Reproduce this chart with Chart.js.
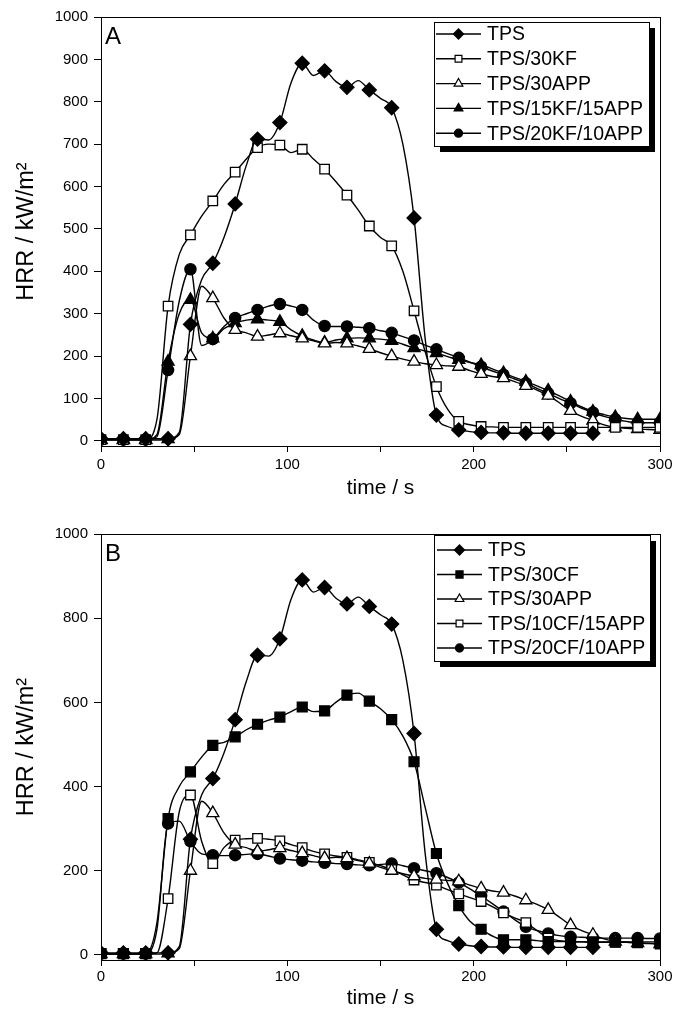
<!DOCTYPE html>
<html>
<head>
<meta charset="utf-8">
<script src="https://cdn.jsdelivr.net/npm/chart.js"></script>
<style>
  html, body { margin: 0; padding: 0; background: #fff; }
  #wrap { position: relative; width: 680px; height: 1029px; }
  .panel { position: absolute; left: 0; width: 680px; }
</style>
</head>
<body>
<div id="wrap">
  <div class="panel" style="top:0;height:514px"><canvas id="chartA"></canvas></div>
  <div class="panel" style="top:514px;height:515px"><canvas id="chartB"></canvas></div>
</div>
<script>
// time axis (s), one reading every 6 s; markers sit on every 12 s
const time = [0, 6, 12, 18, 24, 30, 36, 42, 48, 54, 60, 66, 72, 78, 84, 90, 96, 102, 108, 114,
  120, 126, 132, 138, 144, 150, 156, 162, 168, 174, 180, 186, 192, 198, 204, 210, 216, 222, 228,
  234, 240, 246, 252, 258, 264, 270, 276, 282, 288, 294, 300];

const xTicks = [0, 50, 100, 150, 200, 250, 300];
const yTicksA = [0, 100, 200, 300, 400, 500, 600, 700, 800, 900, 1000];
const yTicksB = [0, 200, 400, 600, 800, 1000];

// HRR values (kW/m²)
const tps = [5, 5, 5, 5, 5, 5, 5, 20, 275, 380, 419, 480, 559, 650, 712, 710, 751, 845, 891, 862,
  873, 848, 834, 850, 828, 808, 786, 700, 526, 240, 61, 34, 26, 22, 20, 19, 19, 18, 18,
  18, 18, 18, 18, 18, 18];
const tps30KF = [3, 3, 3, 3, 3, 50, 318, 440, 486, 530, 566, 605, 634, 665, 692, 700, 698, 680, 688, 665,
  641, 612, 580, 545, 507, 480, 460, 400, 307, 210, 128, 75, 46, 38, 34, 33, 32, 32, 32,
  32, 32, 32, 32, 32, 32, 32, 32, 32, 32, 32, 32];
const tps30APP = [2, 2, 2, 2, 2, 2, 4, 15, 200, 365, 337, 290, 262, 255, 246, 250, 254, 248, 242, 236,
  230, 232, 230, 224, 217, 208, 200, 193, 187, 182, 179, 177, 175, 166, 158, 152, 148, 140, 130,
  120, 107, 90, 71, 58, 48, 38, 32, 30, 28, 27, 26];
const tps15KF15APP = [3, 3, 3, 3, 3, 15, 187, 300, 333, 255, 242, 265, 278, 285, 287, 285, 281, 262, 248, 238,
  232, 238, 242, 243, 242, 240, 236, 228, 219, 212, 207, 199, 191, 185, 179, 170, 160, 150, 140,
  130, 119, 106, 93, 80, 69, 62, 56, 53, 51, 51, 51];
const tps20KF10APP = [3, 3, 3, 3, 3, 10, 167, 330, 405, 225, 240, 270, 290, 300, 309, 318, 323, 318, 309, 285,
  271, 270, 270, 268, 266, 260, 255, 246, 237, 226, 216, 206, 196, 186, 175, 165, 156, 146, 136,
  124, 112, 100, 89, 77, 67, 58, 51, 46, 43, 43, 43];

const tps30CF = [3, 3, 3, 3, 3, 76, 324, 400, 435, 470, 498, 505, 518, 535, 548, 558, 565, 578, 589, 578,
  580, 600, 617, 622, 603, 585, 559, 520, 459, 350, 241, 170, 117, 80, 61, 45, 36, 36, 36,
  34, 32, 32, 32, 31, 31, 31, 31, 31, 31, 31, 31];
const tps10CF15APP = [3, 3, 3, 3, 3, 5, 134, 340, 380, 270, 217, 255, 273, 276, 277, 275, 271, 262, 255, 246,
  240, 235, 232, 226, 220, 212, 203, 190, 178, 172, 166, 155, 145, 136, 127, 115, 100, 88, 77,
  58, 40, 34, 32, 31, 30, 30, 30, 30, 29, 28, 26];
const tps20CF10APP = [3, 3, 3, 3, 3, 60, 312, 318, 270, 240, 237, 236, 237, 239, 240, 235, 229, 226, 224, 221,
  219, 217, 216, 214, 213, 215, 217, 212, 206, 200, 194, 184, 172, 157, 140, 122, 103, 84, 67,
  58, 51, 46, 43, 42, 41, 40, 40, 40, 40, 39, 39];

const FONT = "'Liberation Sans', Arial, Helvetica, sans-serif";

function pts(vals) {
  return vals.map((v, i) => ({ x: time[i], y: v }));
}

function series(label, vals, style, filled, radius) {
  return {
    label: label,
    data: pts(vals),
    borderColor: '#000',
    borderWidth: 1.4,
    cubicInterpolationMode: 'monotone',
    pointStyle: style,
    pointRadius: ctx => (ctx.dataIndex % 2 === 0 ? radius : 0),
    pointHoverRadius: 0,
    pointBackgroundColor: filled ? '#000' : '#fff',
    pointBorderColor: '#000',
    pointBorderWidth: 1.3,
    legendRadius: radius * 0.72,
    filledMark: filled
  };
}

// frame, panel letter and boxed legend with drop shadow
const decor = {
  id: 'decor',
  afterDraw(chart, args, opts) {
    const ctx = chart.ctx;
    const a = chart.chartArea;
    ctx.save();
    ctx.strokeStyle = '#000';
    ctx.lineWidth = 1;
    ctx.strokeRect(Math.round(a.left) + 0.5, Math.round(a.top) + 0.5,
      Math.round(a.right - a.left), Math.round(a.bottom - a.top));

    ctx.fillStyle = '#000';
    ctx.font = '24px ' + FONT;
    ctx.textAlign = 'left';
    ctx.textBaseline = 'middle';
    ctx.fillText(opts.letter, opts.letterX, opts.letterY);

    const b = opts.box;
    ctx.fillRect(b.x + 6, b.y + 6, b.w, b.h);
    ctx.fillStyle = '#fff';
    ctx.fillRect(b.x, b.y, b.w, b.h);
    ctx.strokeRect(b.x + 0.5, b.y + 0.5, b.w, b.h);

    ctx.font = '19.5px ' + FONT;
    chart.data.datasets.forEach((ds, i) => {
      const y = opts.rowY + i * opts.rowGap;
      ctx.strokeStyle = '#000';
      ctx.lineWidth = 1.4;
      ctx.beginPath();
      ctx.moveTo(opts.lineX0, y);
      ctx.lineTo(opts.lineX1, y);
      ctx.stroke();
      ctx.fillStyle = ds.filledMark ? '#000' : '#fff';
      ctx.lineWidth = 1.2;
      Chart.helpers.drawPoint(ctx, {
        pointStyle: ds.pointStyle, rotation: 0,
        radius: ds.legendRadius, borderWidth: 1.2
      }, (opts.lineX0 + opts.lineX1) / 2, y);
      ctx.fillStyle = '#000';
      ctx.fillText(ds.label, opts.textX, y + 1);
    });
    ctx.restore();
  }
};

function makeChart(id, datasets, yTicks, canvasH, padTop, labelPad, titleY, decorOpts) {
  return new Chart(document.getElementById(id), {
    type: 'line',
    data: { datasets: datasets },
    plugins: [decor],
    options: {
      responsive: true,
      maintainAspectRatio: false,
      animation: false,
      devicePixelRatio: 1,
      layout: { padding: { top: padTop, right: 20, left: 0, bottom: 0 } },
      plugins: {
        legend: { display: false },
        tooltip: { enabled: false },
        decor: decorOpts
      },
      scales: {
        x: {
          type: 'linear',
          min: 0,
          max: 300,
          afterBuildTicks: s => { s.ticks = xTicks.map(v => ({ value: v })); },
          afterFit: s => { s.height = canvasH - 446; },
          ticks: {
            autoSkip: false,
            maxRotation: 0,
            padding: labelPad,
            color: '#000',
            font: { family: FONT, size: 15 },
            callback: v => (v % 100 === 0 ? String(v) : '')
          },
          grid: { drawOnChartArea: false, drawTicks: true, tickLength: 6, color: '#000' },
          border: { color: '#000', width: 1 },
          title: {
            display: true,
            text: 'time / s',
            color: '#000',
            font: { family: FONT, size: 21 },
            padding: { top: 0, bottom: canvasH - titleY - 13 }
          }
        },
        y: {
          type: 'linear',
          min: -12,
          max: 1000,
          afterBuildTicks: s => { s.ticks = yTicks.map(v => ({ value: v })); },
          afterFit: s => { s.width = 101; },
          ticks: {
            padding: 6,
            color: '#000',
            font: { family: FONT, size: 15 },
            callback: v => String(v)
          },
          grid: { drawOnChartArea: false, drawTicks: true, tickLength: 7, color: '#000' },
          border: { color: '#000', width: 1 },
          title: {
            display: true,
            text: 'HRR / kW/m²',
            color: '#000',
            font: { family: FONT, size: 23.5 },
            padding: { top: 12, bottom: 0 }
          }
        }
      }
    }
  });
}

makeChart('chartA', [
  series('TPS', tps, 'rectRot', true, 7),
  series('TPS/30KF', tps30KF, 'rect', false, 6.7),
  series('TPS/30APP', tps30APP, 'triangle', false, 7),
  series('TPS/15KF/15APP', tps15KF15APP, 'triangle', true, 7),
  series('TPS/20KF/10APP', tps20KF10APP, 'circle', true, 5.6)
], yTicksA, 514, 17, 4, 488, {
  letter: 'A', letterX: 105, letterY: 37,
  box: { x: 434, y: 22, w: 215, h: 124 },
  rowY: 34, rowGap: 24.8, lineX0: 436, lineX1: 481, textX: 487
});

makeChart('chartB', [
  series('TPS', tps, 'rectRot', true, 7),
  series('TPS/30CF', tps30CF, 'rect', true, 7),
  series('TPS/30APP', tps30APP, 'triangle', false, 7),
  series('TPS/10CF/15APP', tps10CF15APP, 'rect', false, 6.7),
  series('TPS/20CF/10APP', tps20CF10APP, 'circle', true, 5.6)
], yTicksB, 515, 20, 2, 484, {
  letter: 'B', letterX: 105, letterY: 40,
  box: { x: 434, y: 21, w: 216, h: 126 },
  rowY: 36, rowGap: 24.5, lineX0: 437, lineX1: 482, textX: 488
});
</script>
</body>
</html>
